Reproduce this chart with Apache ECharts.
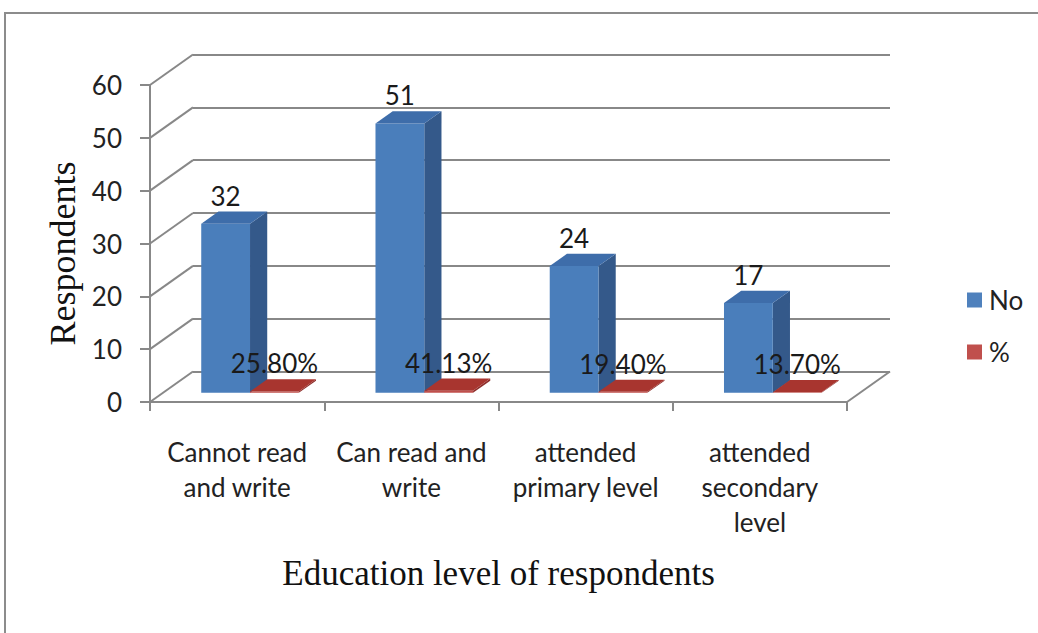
<!DOCTYPE html>
<html>
<head>
<meta charset="utf-8">
<title>Education level of respondents</title>
<script src="https://cdn.jsdelivr.net/npm/echarts/dist/echarts.min.js"></script>
<style>
  html, body { margin: 0; padding: 0; background: #ffffff; }
  #chart { width: 1038px; height: 633px; }
</style>
</head>
<body>
<div id="chart"></div>
<script>
// Chart data
const categories = [
  'Cannot read\nand write',
  'Can read and\nwrite',
  'attended\nprimary level',
  'attended\nsecondary\nlevel'
];
const seriesNames = ['No', '%'];
const respondents = [32, 51, 24, 17];
const shares = [0.258, 0.4113, 0.194, 0.137];
const valueTicks = [0, 10, 20, 30, 40, 50, 60];

// 3D projection: the back wall is shifted by (DX, DY) from the front plane
const DX = 43, DY = -30.5;
const D0 = 0.3, D1 = 0.7;      // bar depth range (fraction of full depth)
const BAR_RATIO = 0.28;        // bar width as a share of the category band
const GRID_COLOR = '#888888';
const SANS = 'Lato, "Open Sans", sans-serif';
const SERIF = '"Liberation Serif", "DejaVu Serif", serif';
const FONT_SIZE = 26;

const chart = echarts.init(document.getElementById('chart'), null, { renderer: 'svg' });

// Left wall diagonals and the right floor edge
function renderFrame(params, api) {
  const v = api.value(1);
  const band = api.size([1, 0])[0];
  const p = api.coord([0, v]);
  const xl = p[0] - band / 2;
  const style = { stroke: GRID_COLOR, lineWidth: 2, fill: null };
  const children = [{
    type: 'line',
    shape: { x1: xl, y1: p[1], x2: xl + DX, y2: p[1] + DY },
    style: style
  }];
  if (v === 0) {
    const q = api.coord([categories.length - 1, 0]);
    const xr = q[0] + band / 2;
    children.push({
      type: 'line',
      shape: { x1: xr, y1: q[1], x2: xr + DX, y2: q[1] + DY },
      style: style
    });
  }
  return { type: 'group', children: children };
}

// Extruded bar: front face, right side face, top face and value label
function makeBar(slot, colors, fmt) {
  return function (params, api) {
    const i = api.value(0);
    const v = api.value(1);
    const band = api.size([1, 0])[0];
    const w = band * BAR_RATIO;
    const base = api.coord([i, 0]);
    const peak = api.coord([i, v]);
    const x0 = base[0] + slot * w + D0 * DX;
    const x1 = x0 + w;
    const yb = base[1] + D0 * DY;
    const yt = peak[1] + D0 * DY;
    const ddx = (D1 - D0) * DX;
    const ddy = (D1 - D0) * DY;
    return {
      type: 'group',
      children: [
        {
          type: 'polygon',
          shape: { points: [[x1, yt], [x1 + ddx, yt + ddy], [x1 + ddx, yb + ddy], [x1, yb]] },
          style: { fill: colors.side }
        },
        {
          type: 'rect',
          shape: { x: x0, y: yt, width: w, height: Math.max(yb - yt, 0.5) },
          style: { fill: colors.front }
        },
        {
          type: 'polygon',
          shape: { points: [[x0, yt], [x1, yt], [x1 + ddx, yt + ddy], [x0 + ddx, yt + ddy]] },
          style: { fill: colors.top }
        },
        {
          type: 'text',
          z2: 10,
          style: {
            text: fmt(v),
            x: (x0 + x1) / 2,
            y: yt - 28,
            align: 'center',
            verticalAlign: 'middle',
            fontFamily: SANS,
            fontSize: FONT_SIZE,
            fill: '#1a1a1a'
          }
        }
      ]
    };
  };
}

const blue = { front: '#4a7ebb', side: '#34598a', top: '#3e6daa' };
const red = { front: '#c0504d', side: '#8e2e2b', top: '#a8352f' };

const option = {
  backgroundColor: '#ffffff',
  animation: false,
  graphic: [{
    type: 'rect',
    silent: true,
    shape: { x: 5, y: 13, width: 1200, height: 800 },
    style: { fill: null, stroke: '#8c8c8c', lineWidth: 2 }
  }],
  legend: {
    data: seriesNames,
    orient: 'vertical',
    left: 967,
    top: 287,
    padding: 0,
    icon: 'rect',
    itemWidth: 15,
    itemHeight: 15,
    itemGap: 26,
    textStyle: { fontFamily: SANS, fontSize: FONT_SIZE, color: '#222222', padding: [0, 0, 0, 2] }
  },
  grid: [
    { left: 150, top: 85, width: 697, height: 317 },
    { left: 150 + DX, top: 85 + DY, width: 697, height: 317 }
  ],
  xAxis: [
    {
      type: 'category',
      gridIndex: 0,
      data: categories,
      boundaryGap: true,
      axisLine: { lineStyle: { color: GRID_COLOR, width: 2 } },
      axisTick: { show: true, length: 9, interval: 0, lineStyle: { color: GRID_COLOR, width: 2 } },
      axisLabel: {
        interval: 0,
        margin: 32,
        fontFamily: SANS,
        fontSize: FONT_SIZE,
        lineHeight: 35,
        color: '#222222'
      },
      name: 'Education level of respondents',
      nameLocation: 'middle',
      nameGap: 154,
      nameTextStyle: { fontFamily: SERIF, fontSize: 35, color: '#111111' }
    },
    {
      type: 'category',
      gridIndex: 1,
      data: categories,
      show: false
    }
  ],
  yAxis: [
    {
      type: 'value',
      gridIndex: 0,
      min: 0,
      max: 60,
      interval: 10,
      axisLine: { show: true, lineStyle: { color: GRID_COLOR, width: 2 } },
      axisTick: { show: true, length: 10, lineStyle: { color: GRID_COLOR, width: 2 } },
      axisLabel: { margin: 28, fontFamily: SANS, fontSize: FONT_SIZE, color: '#222222' },
      splitLine: { show: false },
      name: 'Respondents',
      nameLocation: 'middle',
      nameGap: 65,
      nameTextStyle: { fontFamily: SERIF, fontSize: 36, color: '#111111', padding: [0, 20, 0, 0] }
    },
    {
      type: 'value',
      gridIndex: 1,
      min: 0,
      max: 60,
      interval: 10,
      axisLine: { show: false },
      axisTick: { show: false },
      axisLabel: { show: false },
      splitLine: { show: true, lineStyle: { color: GRID_COLOR, width: 2 } }
    }
  ],
  series: [
    {
      type: 'custom',
      name: 'frame',
      xAxisIndex: 0,
      yAxisIndex: 0,
      silent: true,
      clip: false,
      z: 1,
      renderItem: renderFrame,
      data: valueTicks.map(v => [0, v])
    },
    {
      type: 'custom',
      name: seriesNames[0],
      xAxisIndex: 0,
      yAxisIndex: 0,
      clip: false,
      z: 3,
      itemStyle: { color: '#4f81bd' },
      renderItem: makeBar(-1, blue, v => String(v)),
      data: respondents.map((v, i) => [i, v])
    },
    {
      type: 'custom',
      name: seriesNames[1],
      xAxisIndex: 0,
      yAxisIndex: 0,
      clip: false,
      z: 3,
      itemStyle: { color: '#c0504d' },
      renderItem: makeBar(0, red, v => (v * 100).toFixed(2) + '%'),
      data: shares.map((v, i) => [i, v])
    }
  ]
};

chart.setOption(option);
</script>
</body>
</html>
